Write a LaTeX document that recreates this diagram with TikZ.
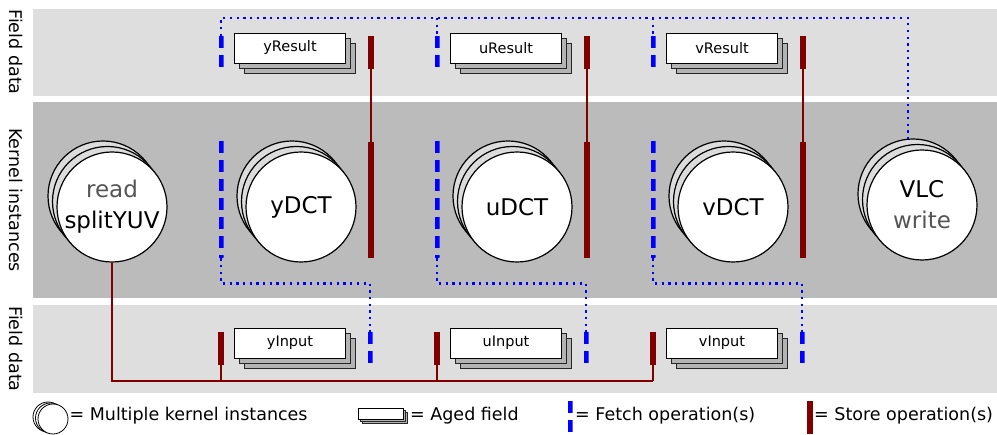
\documentclass[tikz,border=0pt]{standalone}
\usepackage{fontspec}
\setmainfont{DejaVu Sans}
\usetikzlibrary{calc,shadows}
\definecolor{bandlight}{HTML}{DEDEDE}
\definecolor{banddark}{HTML}{BBBBBB}
\definecolor{storered}{HTML}{800000}
\definecolor{fetchblue}{HTML}{0000FF}
\definecolor{softtext}{HTML}{555555}
\definecolor{agedfill}{HTML}{B4B4B4}
\definecolor{instfill}{HTML}{DCDCDC}

\begin{document}
\begin{tikzpicture}[
  x=1pt, y=-1pt,
  sidelabel/.style={rotate=-90, inner sep=0pt, font=\fontsize{17.5}{18}\selectfont},
  kernel/.style={circle, draw=black, line width=1.2pt, fill=white, minimum size=110pt, inner sep=0pt, align=center,
    font=\fontsize{23}{31}\selectfont,
    double copy shadow={shadow xshift=-4.5pt, shadow yshift=5.5pt, fill=instfill, draw=black, line width=1.2pt}},
  field/.style={draw=black, line width=0.8pt, fill=white, minimum width=111pt, minimum height=30pt, inner sep=0pt,
    font=\fontsize{14.5}{15}\selectfont,
    double copy shadow={shadow xshift=5pt, shadow yshift=-5pt, fill=agedfill, draw=black!85, line width=0.8pt}},
  storebar/.style={fill=storered, minimum width=6pt, inner sep=0pt, anchor=north},
  fetchbar/.style={minimum width=5pt, inner sep=0pt, anchor=north,
    path picture={\draw[fetchblue, line width=5pt, dash pattern=on 12pt off 7pt]
      (path picture bounding box.north) -- (path picture bounding box.south);}},
  storelink/.style={draw=storered, line width=2pt},
  fetchlink/.style={draw=fetchblue, line width=2.3pt, dash pattern=on 2.3pt off 4.4pt},
  legend/.style={anchor=west, inner sep=0pt, font=\fontsize{17.5}{18}\selectfont}
]
\useasboundingbox (0,0) rectangle (997,435);

% Bands
\fill[bandlight] (33,9) rectangle (997,96);
\fill[banddark] (33,102) rectangle (997,298);
\fill[bandlight] (33,305) rectangle (997,393);
\node[sidelabel] (topLabel) at (16,52) {Field data};
\node[sidelabel] (kernelLabel) at (16,200) {Kernel instances};
\node[sidelabel] (bottomLabel) at (16,349) {Field data};

% Source and sink kernels
\node[kernel] (splitYUV) at (112,207) {\textcolor{softtext}{read}\\splitYUV};
\node[kernel] (VLC) at (922,205) {VLC\\\textcolor{softtext}{write}};

% One column per channel
\foreach \ch [count=\i from 0] in {y,u,v} {
  \node[kernel] (\ch DCT) at ({301+216*\i},207) {\ch DCT};
  \node[field] (\ch Result) at ({290+216*\i},48) {\ch Result};
  \node[field] (\ch Input) at ({290+216*\i},343) {\ch Input};
  \node[fetchbar, minimum height=31pt] (\ch FetchTop) at ({221+216*\i},36) {};
  \node[storebar, minimum height=33pt] (\ch StoreTop) at ({371+216*\i},36) {};
  \node[fetchbar, minimum height=117pt] (\ch FetchMid) at ({221+216*\i},141) {};
  \node[storebar, minimum height=116pt] (\ch StoreMid) at ({371+216*\i},142) {};
  \node[storebar, minimum height=33pt] (\ch StoreBot) at ({221+216*\i},332) {};
  \node[fetchbar, minimum height=31pt] (\ch FetchBot) at ({370+216*\i},332) {};
  \draw[storelink] (\ch StoreTop.south) -- (\ch StoreMid.north);
  \draw[fetchlink] (\ch FetchMid.south) -- ($(\ch FetchMid.south)+(0,25)$) -| (\ch FetchBot.north);
}

% Store bus from splitYUV
\coordinate (busEnd) at ($(vStoreBot.south)+(0,16)$);
\draw[storelink] (splitYUV.south) |- (busEnd);
\foreach \ch in {y,u,v}
  \draw[storelink] (\ch StoreBot.south) -- (\ch StoreBot.south|-busEnd);

% Fetch rail to VLC
\coordinate (rail) at (0,18);
\coordinate (vlcTop) at ($(VLC.north)+(-14,-10)$);
\draw[fetchlink] (vlcTop) -- (vlcTop|-rail) -- (yFetchTop.north|-rail) -- (yFetchTop.north);
\foreach \ch in {u,v}
  \draw[fetchlink] (\ch FetchTop.north|-rail) -- (\ch FetchTop.north);

% Legend
\node[circle, draw=black, line width=0.8pt, fill=white, minimum size=30pt, inner sep=0pt,
  double copy shadow={shadow xshift=-2.5pt, shadow yshift=1pt, fill=white, draw=black, line width=0.8pt}] (kernelIcon) at (53,419) {};
\node[legend] (kernelText) at ($(kernelIcon.east)+(1,-3)$) {= Multiple kernel instances};
\node[draw=black, line width=0.8pt, fill=white, minimum width=45pt, minimum height=11pt, inner sep=0pt,
  double copy shadow={shadow xshift=2pt, shadow yshift=-2pt, fill=agedfill, draw=black!85, line width=0.8pt}] (fieldIcon) at (381,414) {};
\node[legend] (fieldText) at (410,416) {= Aged field};
\node[fetchbar, minimum height=33pt] (fetchIcon) at (570,401) {};
\node[legend] (fetchText) at (575,416) {= Fetch operation(s)};
\node[storebar, minimum height=33pt] (storeIcon) at (810,401) {};
\node[legend] (storeText) at (814,416) {= Store operation(s)};

\end{tikzpicture}
\end{document}
